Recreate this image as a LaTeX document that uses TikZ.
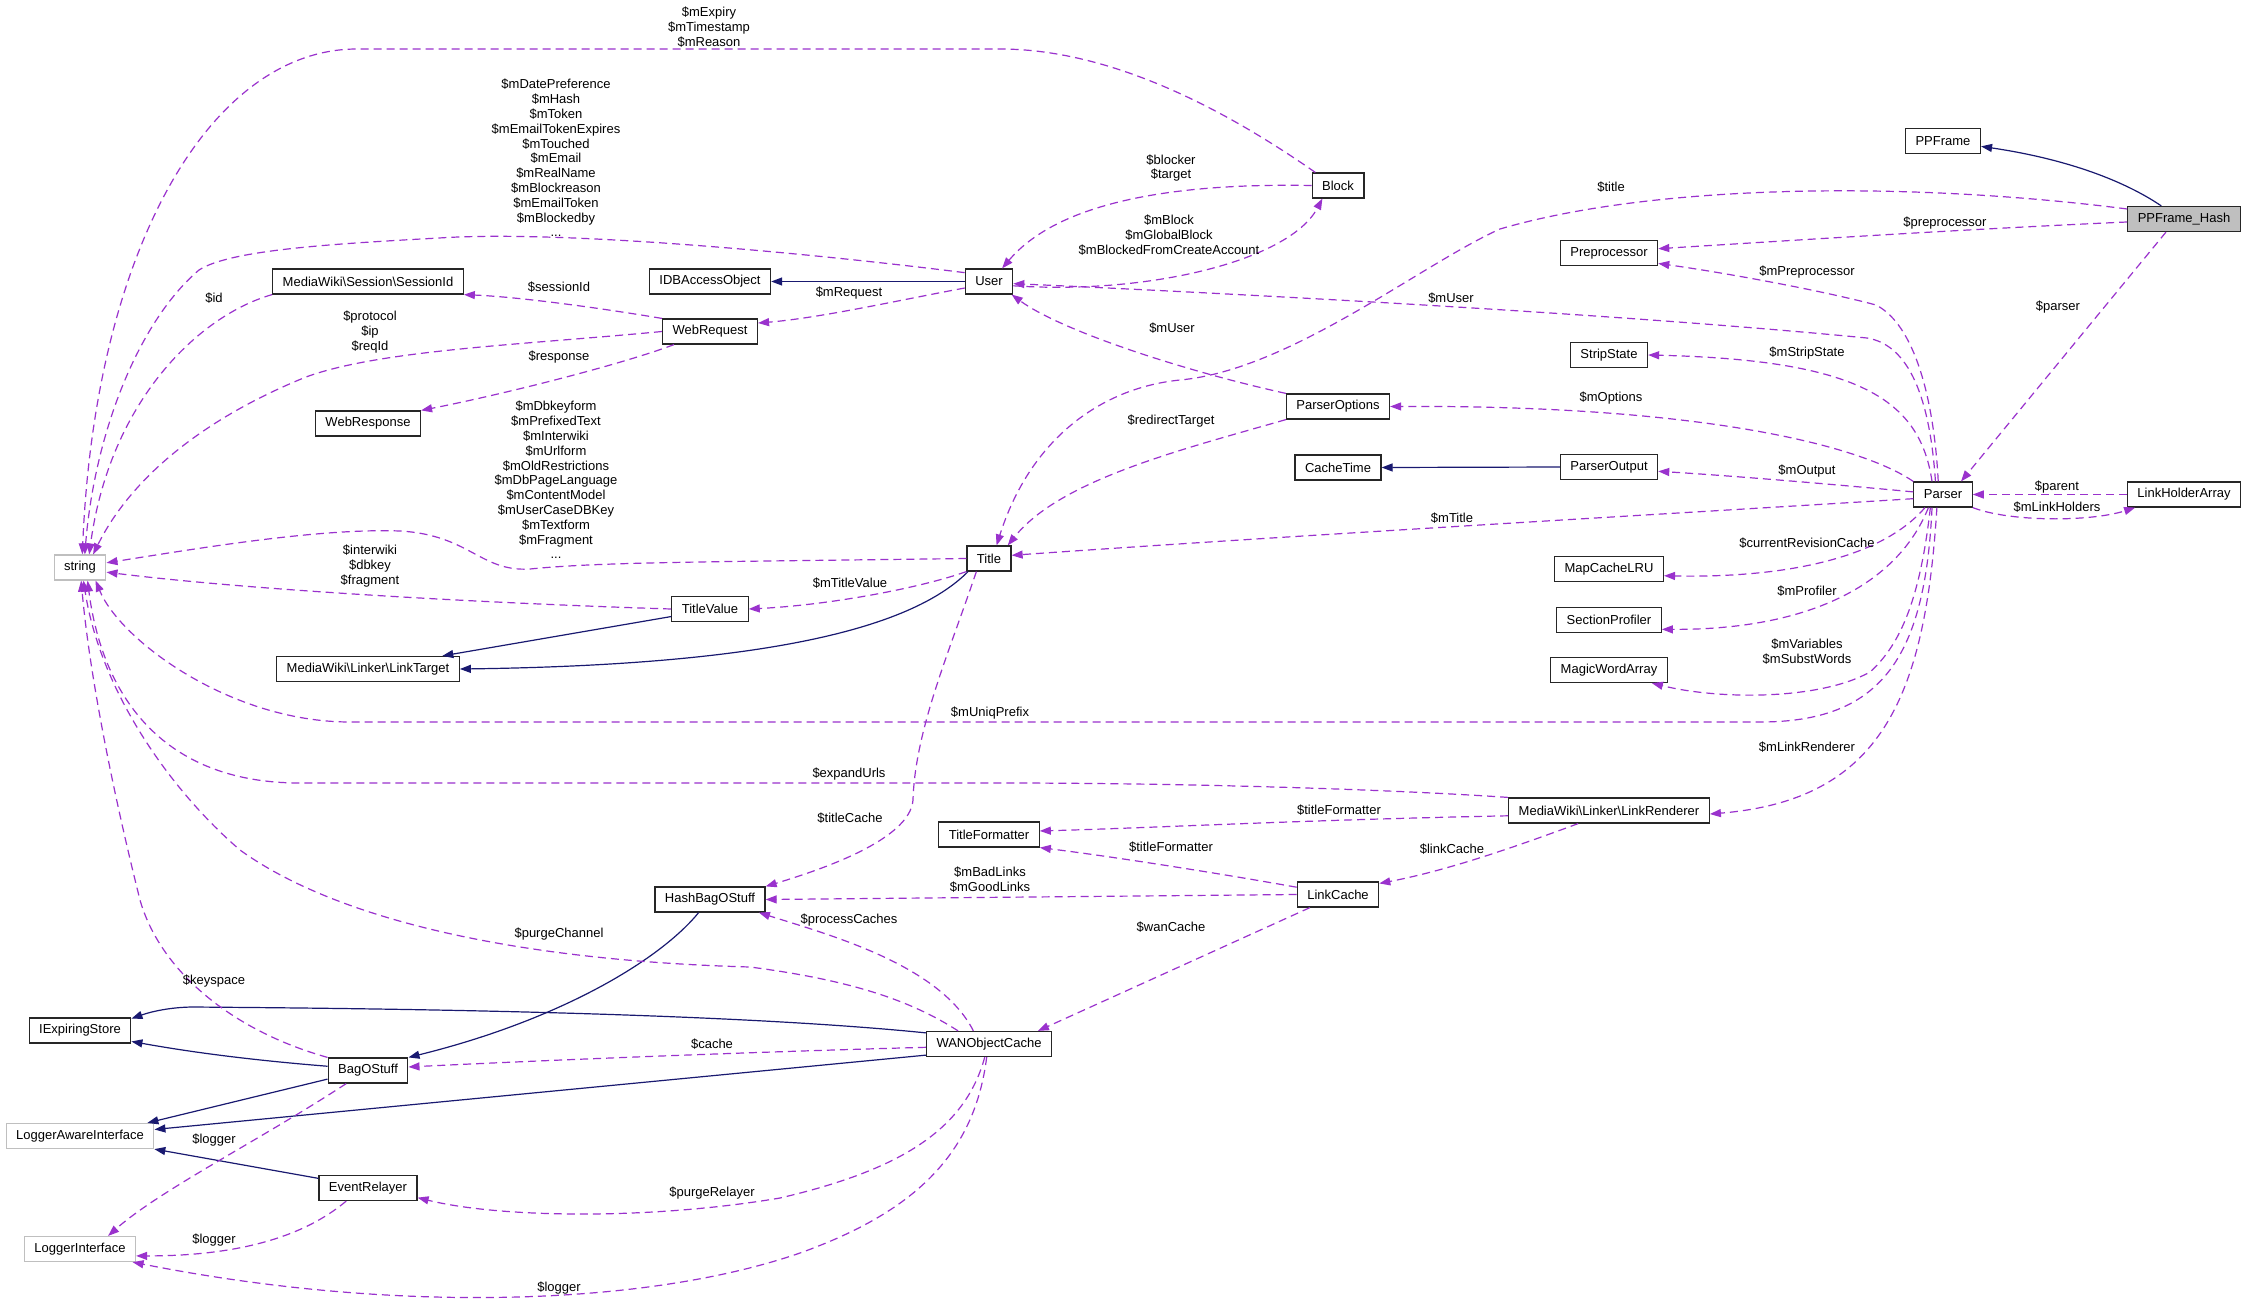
\documentclass[tikz,border=0pt]{standalone}
\usepackage{fontspec}
\setmainfont{Liberation Sans}
\usetikzlibrary{arrows.meta}
\definecolor{purp}{HTML}{9A32CD}
\definecolor{navy}{HTML}{191970}
\definecolor{gbox}{HTML}{BFBFBF}
\newcommand\dgfont{\fontsize{13}{14.8}\selectfont}
\begin{document}
\begin{tikzpicture}[x=1pt,y=-1pt,
  cls/.style={draw=black!85, line width=1.2pt, fill=white, font=\dgfont, inner xsep=10pt, inner ysep=0pt, minimum height=25pt},
  ext/.style={cls, draw=gbox},
  use/.style={draw=purp, line width=1.2pt, dash pattern=on 8pt off 5pt, -{Triangle[length=11pt,width=8pt]}},
  inh/.style={draw=navy, line width=1.2pt, -{Triangle[length=11pt,width=8pt]}},
  lab/.style={font=\dgfont, align=center, inner sep=0pt}]
\fill[white] (0,0) rectangle (2247,1312);
\useasboundingbox (0,0) rectangle (2247,1312);

% ---------- nodes ----------
\node[cls] (ppframe) at (1943,141) {PPFrame};
\node[cls, fill=gbox] (ppframehash) at (2184,219) {PPFrame\_Hash};
\node[cls] (preprocessor) at (1609,253) {Preprocessor};
\node[cls] (stripstate) at (1609,355) {StripState};
\node[cls] (parseroutput) at (1609,467) {ParserOutput};
\node[cls] (mapcachelru) at (1609,569) {MapCacheLRU};
\node[cls] (sectionprofiler) at (1609,620) {SectionProfiler};
\node[cls] (magicwordarray) at (1609,670) {MagicWordArray};
\node[cls] (linkrenderer) at (1609,810.5) {MediaWiki\textbackslash{}Linker\textbackslash{}LinkRenderer};
\node[cls] (parser) at (1943,494.5) {Parser};
\node[cls] (linkholderarray) at (2184,494.5) {LinkHolderArray};
\node[cls] (block) at (1338,185.5) {Block};
\node[cls] (parseroptions) at (1338,406.5) {ParserOptions};
\node[cls] (cachetime) at (1338,467.5) {CacheTime};
\node[cls] (linkcache) at (1338,894.5) {LinkCache};
\node[cls] (user) at (989,281.5) {User};
\node[cls] (title) at (989,558.5) {Title};
\node[cls] (titleformatter) at (989,834.5) {TitleFormatter};
\node[cls] (wanobjectcache) at (989,1044) {WANObjectCache};
\node[cls] (idbaccessobject) at (710,281.5) {IDBAccessObject};
\node[cls] (webrequest) at (710,331.5) {WebRequest};
\node[cls] (titlevalue) at (710,609) {TitleValue};
\node[cls] (hashbagostuff) at (710,899.5) {HashBagOStuff};
\node[cls] (sessionid) at (368,281.5) {MediaWiki\textbackslash{}Session\textbackslash{}SessionId};
\node[cls] (webresponse) at (368,423.5) {WebResponse};
\node[cls] (linktarget) at (368,669) {MediaWiki\textbackslash{}Linker\textbackslash{}LinkTarget};
\node[cls] (bagostuff) at (368,1070.5) {BagOStuff};
\node[cls] (eventrelayer) at (368,1188) {EventRelayer};
\node[ext] (string) at (80,567.5) {string};
\node[cls] (iexpiringstore) at (80,1030.5) {IExpiringStore};
\node[ext] (loggerawareinterface) at (80,1136) {LoggerAwareInterface};
\node[ext] (loggerinterface) at (80,1249) {LoggerInterface};

% ---------- inheritance ----------
\draw[inh] (ppframehash.150) .. controls (2120,178) and (2060,158) .. (ppframe.352);
\draw[inh] (user.west) -- (idbaccessobject.east);
\draw[inh] (parseroutput.west) -- (cachetime.east);
\draw[inh] (titlevalue.191) -- (linktarget.10);
\draw[inh] (title.212) .. controls (910,630) and (760,665) .. (linktarget.east);
\draw[inh] (hashbagostuff.229) .. controls (660,960) and (560,1020) .. (bagostuff.north east);
\draw[inh] (bagostuff.174) .. controls (250,1060) and (190,1052) .. (iexpiringstore.348);
\draw[inh] (wanobjectcache.170) .. controls (700,1010) and (300,1008) .. (194,1007) .. controls (170,1007) and (150,1012) .. (iexpiringstore.13);
\draw[inh] (bagostuff.192) -- (loggerawareinterface.11);
\draw[inh] (wanobjectcache.190) -- (loggerawareinterface.5);
\draw[inh] (eventrelayer.169) -- (loggerawareinterface.350);

% ---------- usage ----------
\draw[use] (block.150) .. controls (1240,120) and (1120,49) .. (1000,49) -- (357,49) .. controls (210,49) and (95,250) .. (string.80);
\draw[use] (user.160) .. controls (800,252) and (560,230) .. (439,238) .. controls (330,244) and (230,250) .. (199,270) .. controls (140,320) and (95,430) .. (string.70);
\draw[use] (sessionid.south west) .. controls (200,315) and (110,400) .. (string.55);
\draw[use] (webrequest.west) .. controls (520,345) and (380,350) .. (306,377) .. controls (200,420) and (130,480) .. (string.45);
\draw[use] (webrequest.north west) .. controls (600,308) and (520,297) .. (sessionid.south east);
\draw[use] (webrequest.200) .. controls (620,365) and (500,395) .. (webresponse.north east);
\draw[use] (user.195) .. controls (900,300) and (820,318) .. (webrequest.10);
\draw[use] (block.west) .. controls (1180,183) and (1060,200) .. (user.45);
\draw[use] (user.350) .. controls (1150,295) and (1290,260) .. (block.220);
\draw[use] (parser.120) .. controls (1930,400) and (1910,345) .. (1867,338) .. controls (1600,312) and (1200,292) .. (user.355);
\draw[use] (parser.110) .. controls (1934,400) and (1915,325) .. (1876,305) .. controls (1820,290) and (1720,272) .. (preprocessor.348);
\draw[use] (parser.130) .. controls (1920,400) and (1860,360) .. (stripstate.east);
\draw[use] (parser.north west) .. controls (1860,445) and (1700,405) .. (parseroptions.east);
\draw[use] (parser.175) .. controls (1820,483) and (1720,475) .. (parseroutput.355);
\draw[use] (parser.188) .. controls (1700,512) and (1300,535) .. (title.8);
\draw[use] (parser.216) .. controls (1880,560) and (1780,578) .. (mapcachelru.353);
\draw[use] (parser.222) .. controls (1895,590) and (1800,630) .. (sectionprofiler.350);
\draw[use] (parser.226) .. controls (1920,600) and (1900,645) .. (1870,672) .. controls (1820,700) and (1720,700) .. (magicwordarray.343);
\draw[use] (parser.230) .. controls (1925,660) and (1880,722) .. (1760,722) -- (350,722) .. controls (230,722) and (120,640) .. (string.320);
\draw[use] (parser.245) .. controls (1925,700) and (1880,800) .. (linkrenderer.358);
\draw[use] (linkholderarray.west) -- (parser.east);
\draw[use] (parser.south east) .. controls (2010,522) and (2090,522) .. (linkholderarray.195);
\draw[use] (ppframehash.216) -- (parser.36);
\draw[use] (ppframehash.183) .. controls (1950,230) and (1800,240) .. (preprocessor.5);
\draw[use] (ppframehash.170) .. controls (1900,180) and (1650,185) .. (1500,229) .. controls (1420,265) and (1290,370) .. (1180,380) .. controls (1100,388) and (1030,440) .. (title.60);
\draw[use] (parseroptions.north west) .. controls (1180,370) and (1060,330) .. (user.330);
\draw[use] (parseroptions.south west) .. controls (1180,450) and (1060,480) .. (title.35);
\draw[use] (title.west) .. controls (700,562) and (600,562) .. (530,569) .. controls (480,572) and (470,535) .. (400,531) .. controls (320,528) and (200,548) .. (string.10);
\draw[use] (title.south west) .. controls (920,588) and (830,605) .. (titlevalue.east);
\draw[use] (titlevalue.west) .. controls (480,603) and (250,590) .. (string.350);
\draw[use] (title.226) .. controls (950,650) and (915,730) .. (913,800) .. controls (910,840) and (820,870) .. (hashbagostuff.north east);
\draw[use] (linkcache.west) -- (hashbagostuff.east);
\draw[use] (wanobjectcache.140) .. controls (940,965) and (830,935) .. (hashbagostuff.345);
\draw[use] (wanobjectcache.157) .. controls (910,1000) and (850,980) .. (750,967) .. controls (500,960) and (330,915) .. (240,850) .. controls (170,790) and (100,690) .. (string.285);
\draw[use] (bagostuff.north west) .. controls (230,1030) and (160,970) .. (140,900) .. controls (115,800) and (90,680) .. (string.275);
\draw[use] (bagostuff.211) .. controls (260,1140) and (160,1190) .. (loggerinterface.25);
\draw[use] (wanobjectcache.183) .. controls (750,1052) and (550,1060) .. (bagostuff.5);
\draw[use] (wanobjectcache.252) .. controls (965,1130) and (900,1170) .. (780,1198) .. controls (650,1220) and (500,1218) .. (eventrelayer.349);
\draw[use] (wanobjectcache.260) .. controls (975,1150) and (920,1210) .. (800,1253) .. controls (650,1305) and (400,1315) .. (loggerinterface.346);
\draw[use] (eventrelayer.211) .. controls (300,1240) and (230,1256) .. (loggerinterface.353);
\draw[use] (linkrenderer.north west) .. controls (1400,790) and (1200,783) .. (1000,783) -- (300,783) .. controls (150,783) and (100,680) .. (string.300);
\draw[use] (linkrenderer.183) .. controls (1300,820) and (1150,828) .. (titleformatter.4);
\draw[use] (linkrenderer.203) .. controls (1520,845) and (1450,870) .. (linkcache.15);
\draw[use] (linkcache.170) .. controls (1200,870) and (1100,855) .. (titleformatter.south east);
\draw[use] (linkcache.205) -- (wanobjectcache.15);

% ---------- labels ----------
\node[lab] (l1) at (709,27) {\$mExpiry\\\$mTimestamp\\\$mReason};
\node[lab] (l2) at (556,158) {\$mDatePreference\\\$mHash\\\$mToken\\\$mEmailTokenExpires\\\$mTouched\\\$mEmail\\\$mRealName\\\$mBlockreason\\\$mEmailToken\\\$mBlockedby\\...};
\node[lab] (l3) at (214,298) {\$id};
\node[lab] (l4) at (559,287) {\$sessionId};
\node[lab] (l5) at (370,332) {\$protocol\\\$ip\\\$reqId};
\node[lab] (l6) at (559,357) {\$response};
\node[lab] (l7) at (849,293) {\$mRequest};
\node[lab] (l8) at (1171,168) {\$blocker\\\$target};
\node[lab] (l9) at (1169,235) {\$mBlock\\\$mGlobalBlock\\\$mBlockedFromCreateAccount};
\node[lab] (l10) at (1451,298) {\$mUser};
\node[lab] (l11) at (1172,328) {\$mUser};
\node[lab] (l12) at (1171,421) {\$redirectTarget};
\node[lab] (l13) at (1611,187) {\$title};
\node[lab] (l14) at (1945,223) {\$preprocessor};
\node[lab] (l15) at (1807,272) {\$mPreprocessor};
\node[lab] (l16) at (2058,307) {\$parser};
\node[lab] (l17) at (1807,353) {\$mStripState};
\node[lab] (l18) at (1611,398) {\$mOptions};
\node[lab] (l19) at (1807,471) {\$mOutput};
\node[lab] (l20) at (2057,487) {\$parent};
\node[lab] (l21) at (2057,507) {\$mLinkHolders};
\node[lab] (l22) at (1452,518) {\$mTitle};
\node[lab] (l23) at (1807,543) {\$currentRevisionCache};
\node[lab] (l24) at (1807,591) {\$mProfiler};
\node[lab] (l25) at (1807,652) {\$mVariables\\\$mSubstWords};
\node[lab] (l26) at (1807,747) {\$mLinkRenderer};
\node[lab] (l27) at (990,713) {\$mUniqPrefix};
\node[lab] (l28) at (849,774) {\$expandUrls};
\node[lab] (l29) at (850,818) {\$titleCache};
\node[lab] (l30) at (1339,810) {\$titleFormatter};
\node[lab] (l31) at (1171,847) {\$titleFormatter};
\node[lab] (l32) at (1452,849) {\$linkCache};
\node[lab] (l33) at (990,880) {\$mBadLinks\\\$mGoodLinks};
\node[lab] (l34) at (849,920) {\$processCaches};
\node[lab] (l35) at (1171,927) {\$wanCache};
\node[lab] (l36) at (559,934) {\$purgeChannel};
\node[lab] (l37) at (214,981) {\$keyspace};
\node[lab] (l38) at (712,1044) {\$cache};
\node[lab] (l39) at (214,1140) {\$logger};
\node[lab] (l40) at (214,1240) {\$logger};
\node[lab] (l41) at (712,1193) {\$purgeRelayer};
\node[lab] (l42) at (559,1288) {\$logger};
\node[lab] (l43) at (556,480) {\$mDbkeyform\\\$mPrefixedText\\\$mInterwiki\\\$mUrlform\\\$mOldRestrictions\\\$mDbPageLanguage\\\$mContentModel\\\$mUserCaseDBKey\\\$mTextform\\\$mFragment\\...};
\node[lab] (l44) at (370,566) {\$interwiki\\\$dbkey\\\$fragment};
\node[lab] (l45) at (850,583) {\$mTitleValue};
\end{tikzpicture}
\end{document}
